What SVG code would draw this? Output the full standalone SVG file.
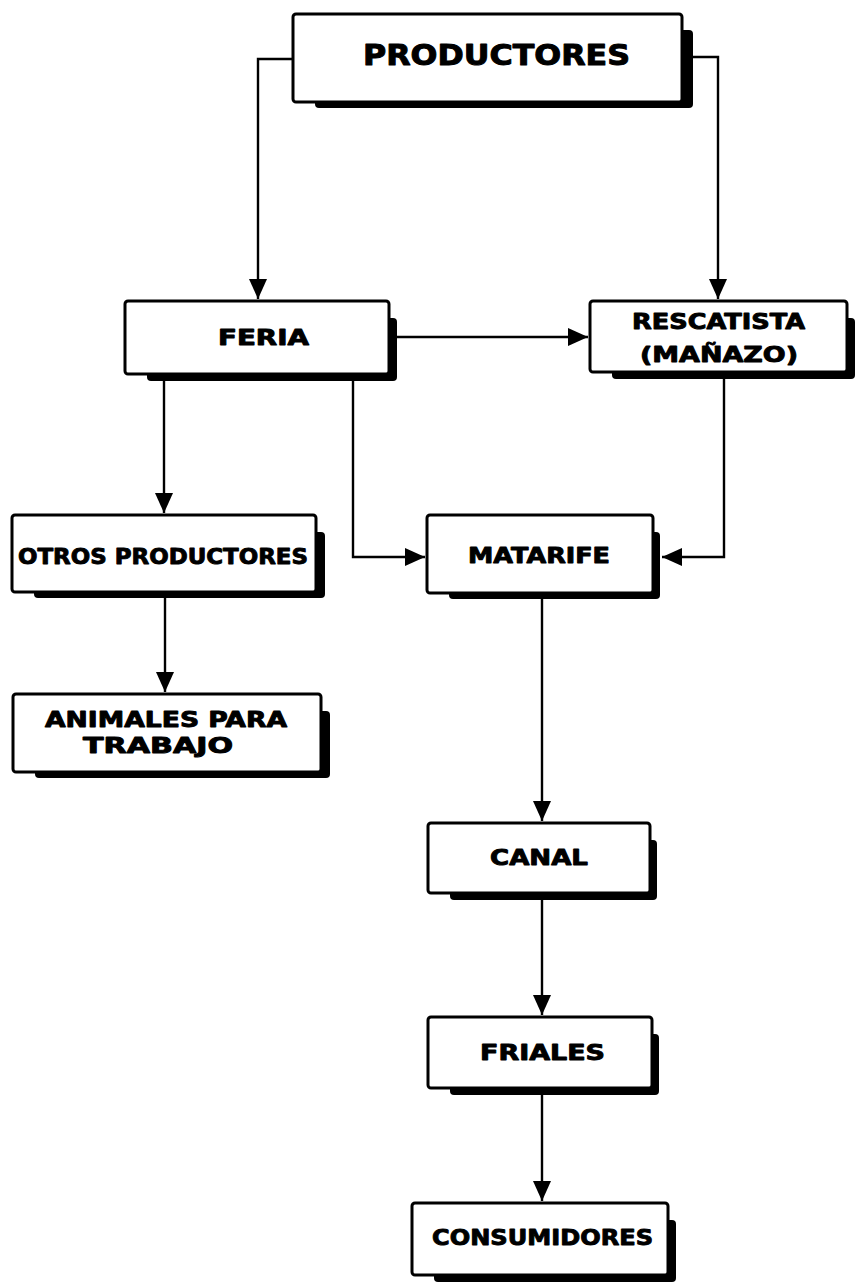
<svg xmlns="http://www.w3.org/2000/svg" width="857" height="1285" viewBox="0 0 857 1285">
<style>
.box{fill:#fff;stroke:#000;stroke-width:3}
.sh{fill:#000}
.t{font-family:"DejaVu Sans","Liberation Sans",sans-serif;font-weight:bold;font-size:21px;fill:#000;stroke:#000;stroke-width:0.9;stroke-linejoin:round}
.big{font-size:29px;stroke-width:1}
.c{fill:none;stroke:#000;stroke-width:2.4}
</style>
<defs>
<marker id="ah" markerUnits="userSpaceOnUse" markerWidth="22" markerHeight="22" viewBox="0 0 22 22" refX="20" refY="11" orient="auto">
<path d="M0,2 L20,11 L0,20 Z" fill="#000"/>
</marker>
</defs>
<rect width="857" height="1285" fill="#fff"/>
<g id="connectors">
<path class="c" d="M293,59 H258 V299" marker-end="url(#ah)"/>
<path class="c" d="M690,57 H718 V299" marker-end="url(#ah)"/>
<path class="c" d="M397,337 H588" marker-end="url(#ah)"/>
<path class="c" d="M164,381 V513" marker-end="url(#ah)"/>
<path class="c" d="M353,381 V557 H425" marker-end="url(#ah)"/>
<path class="c" d="M724,379 V557 H662" marker-end="url(#ah)"/>
<path class="c" d="M165,598 V692" marker-end="url(#ah)"/>
<path class="c" d="M542,599 V821" marker-end="url(#ah)"/>
<path class="c" d="M542,900 V1015" marker-end="url(#ah)"/>
<path class="c" d="M542,1095 V1201" marker-end="url(#ah)"/>
</g>
<g id="productores">
<rect class="sh" x="315" y="30" width="378" height="78" rx="4"/>
<rect class="box" x="293" y="14" width="389" height="88" rx="3"/>
<text class="t big" x="363" y="65" textLength="267" lengthAdjust="spacingAndGlyphs">PRODUCTORES</text>
</g>
<g id="feria">
<rect class="sh" x="147" y="318" width="250" height="63" rx="4"/>
<rect class="box" x="125" y="301" width="264" height="73" rx="3"/>
<text class="t" x="218" y="345" textLength="91" lengthAdjust="spacingAndGlyphs">FERIA</text>
</g>
<g id="rescatista">
<rect class="sh" x="612" y="318" width="243" height="61" rx="4"/>
<rect class="box" x="590" y="301" width="257" height="71" rx="3"/>
<text class="t" x="632" y="329" textLength="173" lengthAdjust="spacingAndGlyphs">RESCATISTA</text>
<text class="t" x="640" y="362" textLength="158" lengthAdjust="spacingAndGlyphs">(MAÑAZO)</text>
</g>
<g id="otros-productores">
<rect class="sh" x="34" y="532" width="291" height="66" rx="4"/>
<rect class="box" x="12" y="515" width="304" height="77" rx="3"/>
<text class="t" x="18" y="564" textLength="290" lengthAdjust="spacingAndGlyphs">OTROS PRODUCTORES</text>
</g>
<g id="animales">
<rect class="sh" x="35" y="711" width="295" height="67" rx="4"/>
<rect class="box" x="13" y="694" width="308" height="78" rx="3"/>
<text class="t" x="45" y="727" textLength="242" lengthAdjust="spacingAndGlyphs">ANIMALES PARA</text>
<text class="t" x="83" y="753" textLength="150" lengthAdjust="spacingAndGlyphs">TRABAJO</text>
</g>
<g id="matarife">
<rect class="sh" x="449" y="532" width="211" height="67" rx="4"/>
<rect class="box" x="427" y="515" width="226" height="78" rx="3"/>
<text class="t" x="468" y="563" textLength="142" lengthAdjust="spacingAndGlyphs">MATARIFE</text>
</g>
<g id="canal">
<rect class="sh" x="450" y="840" width="207" height="60" rx="4"/>
<rect class="box" x="428" y="823" width="222" height="70" rx="3"/>
<text class="t" x="490" y="865" textLength="98" lengthAdjust="spacingAndGlyphs">CANAL</text>
</g>
<g id="friales">
<rect class="sh" x="450" y="1034" width="209" height="61" rx="4"/>
<rect class="box" x="428" y="1017" width="224" height="71" rx="3"/>
<text class="t" x="480" y="1060" textLength="125" lengthAdjust="spacingAndGlyphs">FRIALES</text>
</g>
<g id="consumidores">
<rect class="sh" x="434" y="1220" width="242" height="62" rx="4"/>
<rect class="box" x="412" y="1203" width="256" height="72" rx="3"/>
<text class="t" x="432" y="1245" textLength="221" lengthAdjust="spacingAndGlyphs">CONSUMIDORES</text>
</g>
</svg>
